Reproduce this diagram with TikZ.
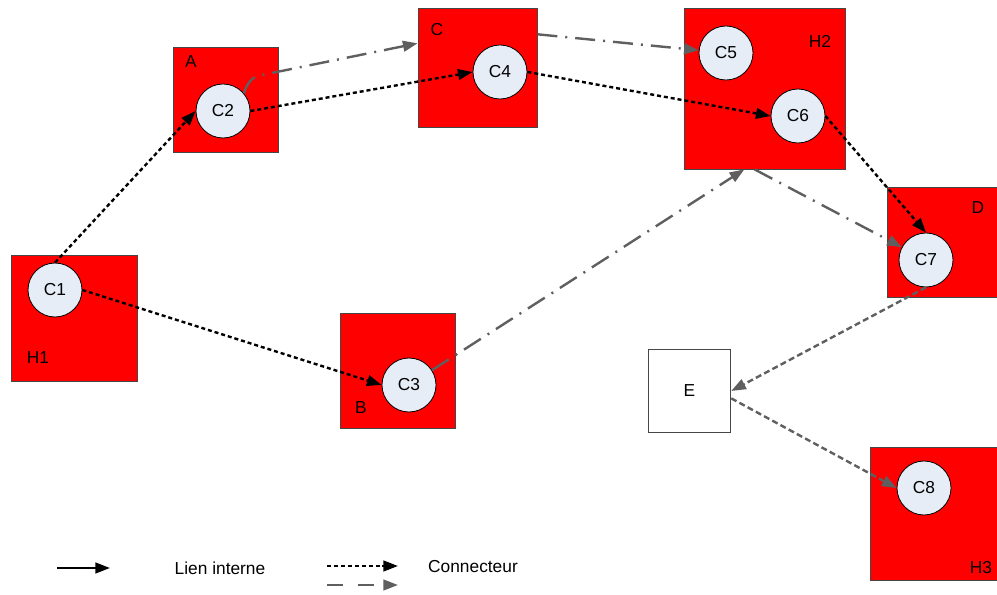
\documentclass[tikz,border=0pt]{standalone}
\usepackage{fontspec}
\setmainfont{Liberation Sans}
\usetikzlibrary{arrows.meta}
\definecolor{hostred}{RGB}{255,0,0}
\definecolor{compfill}{RGB}{230,237,247}
\definecolor{linkgray}{RGB}{95,95,95}
\definecolor{boxedge}{RGB}{70,70,70}
\begin{document}
\begin{tikzpicture}[
  x=0.75pt, y=-0.75pt,
  font=\fontsize{13}{15}\selectfont,
  hostbox/.style={rectangle, draw=boxedge, fill=hostred, line width=0.6pt, inner sep=0pt, minimum size=#1},
  plainbox/.style={rectangle, draw=boxedge, fill=white, line width=0.6pt, inner sep=0pt, minimum size=#1},
  comp/.style={circle, draw=black, line width=0.6pt, fill=compfill, minimum size=40.5pt, inner sep=0pt},
  tag/.style={inner sep=0pt},
  internal/.style={line width=1.8pt, -{Triangle[length=11pt,width=8pt]}},
  conn/.style={line width=1.8pt, dash pattern=on 3pt off 2.2pt, -{Triangle[length=11pt,width=8pt]}},
  chain/.style={draw=linkgray, line width=1.8pt, dash pattern=on 15pt off 6pt on 1.5pt off 6pt, -{Triangle[length=11pt,width=8pt]}},
  hop/.style={draw=linkgray, line width=1.8pt, dash pattern=on 4.5pt off 2.5pt, -{Triangle[length=11pt,width=8pt]}},
  keygray/.style={draw=linkgray, line width=1.8pt, dash pattern=on 12pt off 11pt, -{Triangle[length=11pt,width=8pt]}}
]
  \useasboundingbox (0,0) rectangle (997,595);

  % hotes et boites
  \node[hostbox=94.5pt] (boxH1) at (74,318.5) {};
  \node[hostbox=78.75pt] (boxA) at (225.5,99.5) {};
  \node[hostbox=86.25pt] (boxB) at (397.5,370.5) {};
  \node[hostbox=89.25pt] (boxC) at (477.5,67.5) {};
  \node[hostbox=120.75pt] (boxH2) at (764.5,88.5) {};
  \node[hostbox=82.5pt] (boxD) at (942,242.5) {};
  \node[plainbox=62pt] (boxE) at (689.5,391) {E};
  \node[hostbox=95.25pt, minimum height=99.75pt] (boxH3) at (933.5,513.5) {};

  \node[tag] (tH1) at (38,358) {H1};
  \node[tag] (tA) at (191,62) {A};
  \node[tag] (tB) at (361,408) {B};
  \node[tag] (tC) at (437,30) {C};
  \node[tag] (tH2) at (820,41) {H2};
  \node[tag] (tD) at (978,208) {D};
  \node[tag] (tH3) at (981,568) {H3};

  % composants
  \node[comp] (c1) at (55,290) {C1};
  \node[comp] (c2) at (223,111) {C2};
  \node[comp] (c3) at (409,385) {C3};
  \node[comp] (c4) at (500,72) {C4};
  \node[comp] (c5) at (726,53) {C5};
  \node[comp] (c6) at (798,116) {C6};
  \node[comp] (c7) at (926,260) {C7};
  \node[comp] (c8) at (924,488) {C8};

  % connecteurs
  \draw[conn] (c1.north) -- (c2.west);
  \draw[conn] (c1.east) -- (c3.west);
  \draw[conn] (c2.east) -- (c4.west);
  \draw[conn] (c4.east) -- (c6.west);
  \draw[conn] (c6.east) -- (c7.north);

  \coordinate (kink) at (257,76);
  \draw[chain] (c2.40) .. controls +(3,-10) and +(-6,3) .. (kink) -- (boxC.158);
  \draw[chain] (boxC.29) -- (c5);
  \draw[chain] (c3) -- (boxH2.256);
  \draw[chain] (boxH2.263) -- (c7);

  \draw[hop] (c7.south) -- (boxE.east);
  \draw[hop] (boxE.-10) -- (c8.west);

  % legende
  \coordinate (lgA) at (57,568);
  \coordinate (lgB) at (110,568);
  \coordinate (lgC) at (327,566);
  \coordinate (lgD) at (398,566);
  \coordinate (lgE) at (327,585);
  \coordinate (lgF) at (398,585);
  \draw[internal] (lgA) -- (lgB);
  \draw[conn] (lgC) -- (lgD);
  \draw[keygray] (lgE) -- (lgF);
  \node[tag] (lgInt) at (220,568) {Lien interne};
  \node[tag] (lgConn) at (473,567) {Connecteur};
\end{tikzpicture}
\end{document}
